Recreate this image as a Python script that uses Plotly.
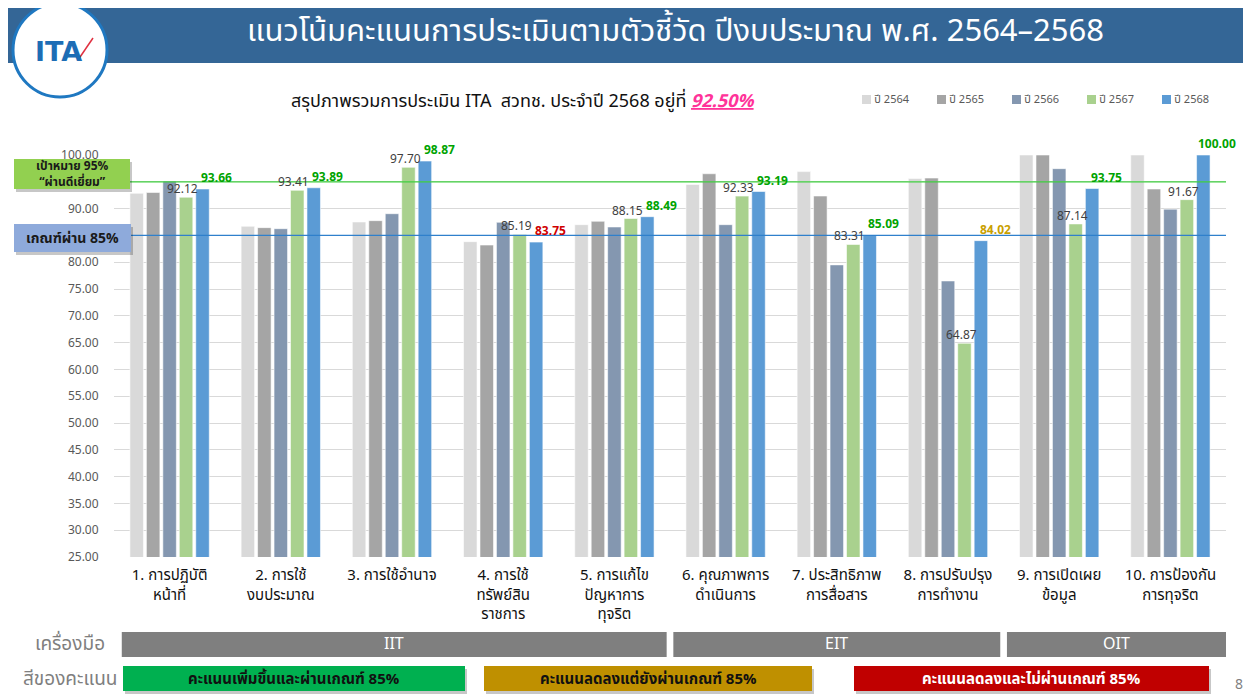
import plotly.graph_objects as go

# ---------------- data ----------------
categories = [
    "1. การปฏิบัติ<br>หน้าที่",
    "2. การใช้<br>งบประมาณ",
    "3. การใช้อำนาจ",
    "4. การใช้<br>ทรัพย์สิน<br>ราชการ",
    "5. การแก้ไข<br>ปัญหาการ<br>ทุจริต",
    "6. คุณภาพการ<br>ดำเนินการ",
    "7. ประสิทธิภาพ<br>การสื่อสาร",
    "8. การปรับปรุง<br>การทำงาน",
    "9. การเปิดเผย<br>ข้อมูล",
    "10. การป้องกัน<br>การทุจริต",
]
years = ["ปี 2564", "ปี 2565", "ปี 2566", "ปี 2567", "ปี 2568"]
y2564 = [92.85, 86.70, 87.50, 83.83, 87.00, 94.50, 96.90, 95.60, 100.00, 100.00]
y2565 = [93.00, 86.45, 87.75, 83.20, 87.63, 96.50, 92.35, 95.70, 100.00, 93.66]
y2566 = [95.15, 86.25, 89.05, 87.44, 86.57, 87.00, 79.50, 76.50, 97.45, 89.90]
y2567 = [92.12, 93.41, 97.70, 85.19, 88.15, 92.33, 83.31, 64.87, 87.14, 91.67]
y2568 = [93.66, 93.89, 98.87, 83.75, 88.49, 93.19, 85.09, 84.02, 93.75, 100.00]
series = [y2564, y2565, y2566, y2567, y2568]

target = 95
pass_mark = 85
overall = "92.50%"

y_ticks = [25, 30, 35, 40, 45, 50, 55, 60, 65, 70, 75, 80, 85, 90, 95, 100]

tools = ["IIT", "EIT", "OIT"]
tool_counts = [5, 3, 2]

colour_legend = [
    "คะแนนเพิ่มขึ้นและผ่านเกณฑ์ 85%",
    "คะแนนลดลงแต่ยังผ่านเกณฑ์ 85%",
    "คะแนนลดลงและไม่ผ่านเกณฑ์ 85%",
]

# ---------------- style ----------------
FONT = "Noto Sans Thai, Kanit, Prompt, Noto Sans, DejaVu Sans, sans-serif"
bar_colors = ["#d9d9d9", "#a5a5a5", "#8497b0", "#a9d18e", "#5b9bd5"]
GREEN_TXT, GOLD_TXT, RED_TXT = "#00a300", "#c9a000", "#d00000"

# the page adds an 8px body margin, so the figure is drawn 8px smaller
OFF = 8
W, H = 1251 - OFF, 696 - OFF
ML, MR, MT, MB = 106, 25, 147, 139
PW, PH = W - ML - MR, H - MT - MB


def px(x):  # x in screen pixels -> paper
    return (x - OFF - ML) / PW


def py(y):  # y in screen pixels -> paper
    return (H - MB - (y - OFF)) / PH


fig = go.Figure()
for name, vals, col in zip(years, series, bar_colors):
    fig.add_trace(go.Bar(
        x=categories, y=vals, name=name,
        marker=dict(color=col, line=dict(color="rgba(255,255,255,0.7)", width=0.8)),
        hoverinfo="x+y+name", showlegend=False,
    ))

annotations = []
shapes = []


def note(x, y, text, size, color, anchor="center", family=FONT):
    annotations.append(dict(x=px(x), y=py(y), xref="paper", yref="paper", showarrow=False,
                            xanchor=anchor, yanchor="middle", text=text,
                            font=dict(family=family, size=size, color=color)))


# value labels on 2567 (green) bars
for c, v in zip(categories, y2567):
    annotations.append(dict(
        x=c, y=v, xref="x", yref="y", text=f"{v:.2f}", showarrow=False,
        xanchor="center", yanchor="bottom", xshift=13, yshift=-3,
        font=dict(family=FONT, size=12, color="#404040"),
    ))

# value labels on 2568 (blue) bars, coloured by status
for c, v, prev in zip(categories, y2568, y2567):
    if v >= pass_mark and v >= prev:
        col = GREEN_TXT
    elif v < pass_mark and v < prev:
        col = RED_TXT
    else:
        col = GOLD_TXT
    annotations.append(dict(
        x=c, y=v, xref="x", yref="y", text=f"<b>{v:.2f}</b>", showarrow=False,
        xanchor="center", yanchor="bottom", xshift=47, yshift=0,
        font=dict(family=FONT, size=12, color=col),
    ))

# reference lines
shapes.append(dict(type="line", xref="paper", yref="y", x0=px(130), x1=1, y0=target, y1=target,
                   line=dict(color="#3fcf3f", width=1.3), layer="above"))
shapes.append(dict(type="line", xref="paper", yref="y", x0=px(117), x1=1, y0=pass_mark, y1=pass_mark,
                   line=dict(color="#2f80cc", width=1.2), layer="above"))


def box(x0, y0, x1, y1, fill, shadow=True):
    if shadow:
        shapes.append(dict(type="rect", xref="paper", yref="paper",
                           x0=px(x0 + 2), x1=px(x1 + 2), y0=py(y1 + 3), y1=py(y0 + 3),
                           fillcolor="rgba(0,0,0,0.22)", line=dict(width=0), layer="above"))
    shapes.append(dict(type="rect", xref="paper", yref="paper",
                       x0=px(x0), x1=px(x1), y0=py(y1), y1=py(y0),
                       fillcolor=fill, line=dict(width=0), layer="above"))


box(14, 159, 130, 189, "#92d050")
note(72, 174, f"<b>เป้าหมาย {target}%<br>“ผ่านดีเยี่ยม”</b>", 12, "#1a1a1a")
box(14, 224, 131, 252, "#8eaadb")
note(72, 238, f"<b>เกณฑ์ผ่าน {pass_mark}%</b>", 14, "#1a1a1a")

# header banner
shapes.append(dict(type="rect", xref="paper", yref="paper", x0=px(7), x1=px(1251), y0=py(63), y1=py(4),
                   fillcolor="#346696", line=dict(width=0), layer="above"))
shapes.append(dict(type="circle", xref="paper", yref="paper", x0=px(13), x1=px(107), y0=py(97), y1=py(3),
                   fillcolor="white", line=dict(color="#1f78c1", width=3), layer="above"))
note(58, 51, "<b>ITA</b>", 27, "#1d6db5", family="DejaVu Sans, sans-serif")
shapes.append(dict(type="line", xref="paper", yref="paper", x0=px(78), x1=px(93), y0=py(60), y1=py(38),
                   line=dict(color="#e03040", width=1.5), layer="above"))
note(675, 32, "แนวโน้มคะแนนการประเมินตามตัวชี้วัด ปีงบประมาณ พ.ศ. 2564–2568", 31, "white")

# subtitle
note(523, 101, ("สรุปภาพรวมการประเมิน ITA  สวทช. ประจำปี 2568 อยู่ที่ "
                f"<span style='color:#ff3399'><b><i><u>{overall}</u></i></b></span>"), 18, "#111111")

# custom legend
for i, (name, col) in enumerate(zip(years, bar_colors)):
    lx = 862 + 75 * i
    shapes.append(dict(type="rect", xref="paper", yref="paper", x0=px(lx), x1=px(lx + 9),
                       y0=py(104), y1=py(95), fillcolor=col, line=dict(width=0), layer="above"))
    note(lx + 10, 99.5, name, 11, "#595959", anchor="left")

# tool row
start = -0.5
for i, (t, n) in enumerate(zip(tools, tool_counts)):
    x0 = start + (0.07 if i == 0 else 0.03)
    x1 = start + n - (0.0 if i == len(tools) - 1 else 0.03)
    shapes.append(dict(type="rect", xref="x", yref="paper", x0=x0, x1=x1, y0=py(657), y1=py(632),
                       fillcolor="#7f7f7f", line=dict(width=0), layer="above"))
    annotations.append(dict(x=(x0 + x1) / 2, y=py(644), xref="x", yref="paper", showarrow=False,
                            xanchor="center", yanchor="middle",
                            text=t, font=dict(family=FONT, size=16, color="white")))
    start += n

note(70, 644, "เครื่องมือ", 19, "#7f7f7f")
note(70, 679, "สีของคะแนน", 19, "#7f7f7f")

# colour legend boxes
legend_boxes = [(123, 465, "#00b050", "#111111"), (484, 812, "#bf9000", "#111111"),
                (854, 1209, "#c00000", "white")]
for label, (x0, x1, fill, tc) in zip(colour_legend, legend_boxes):
    box(x0, 666, x1, 691, fill)
    note((x0 + x1) / 2, 679, f"<b>{label}</b>", 15, tc)

note(1239, 684, "8", 14, "#7f7f7f")

# tick labels hidden behind the two left boxes
tick_text = ["" if v in (target, pass_mark) else f"{v:.2f}" for v in y_ticks]

fig.update_layout(
    width=W, height=H,
    margin=dict(l=ML, r=MR, t=MT, b=MB, autoexpand=False),
    paper_bgcolor="white", plot_bgcolor="white",
    barmode="group", bargap=0.26, bargroupgap=0.18,
    font=dict(family=FONT, color="#404040"),
    showlegend=False,
    xaxis=dict(tickfont=dict(family=FONT, size=15, color="#111111"), showgrid=False, tickangle=0,
               ticks="outside", ticklen=4, tickcolor="rgba(0,0,0,0)", showline=False,
               range=[-0.5, 9.5], automargin=False),
    yaxis=dict(range=[25, 100], tickvals=y_ticks, ticktext=tick_text, showgrid=True, gridcolor="#d9d9d9",
               gridwidth=1, zeroline=False, tickfont=dict(family=FONT, size=12, color="#595959"),
               ticks="outside", ticklen=12, tickcolor="rgba(0,0,0,0)", automargin=False),
    annotations=annotations,
    shapes=shapes,
)

fig.write_html("out.html")
